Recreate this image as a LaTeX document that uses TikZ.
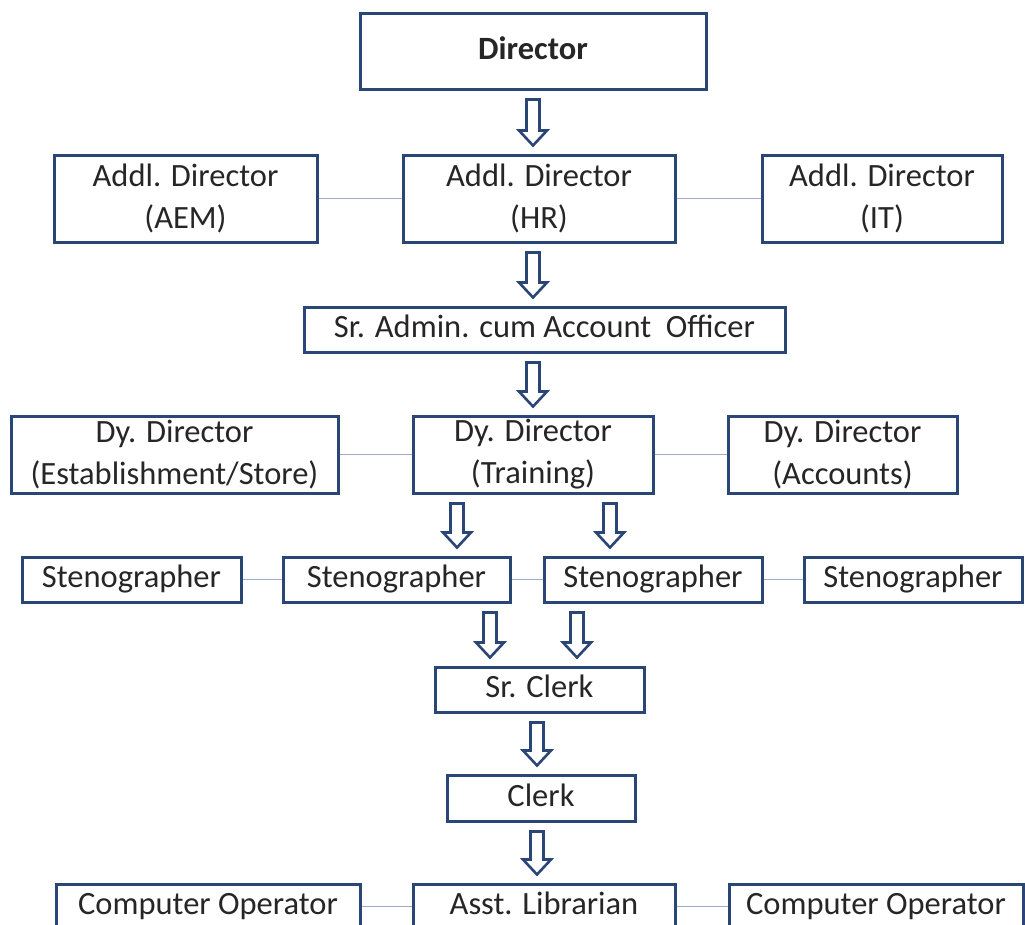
\documentclass[tikz,border=0pt]{standalone}
\usepackage{fontspec}
\setmainfont{Carlito}
\usetikzlibrary{calc}
\definecolor{boxblue}{HTML}{2A4676}
\definecolor{linkgray}{HTML}{9DADC6}
\definecolor{txt}{HTML}{262626}
\tikzset{
  orgbox/.style={draw=boxblue, line width=3pt, fill=white, inner sep=0pt, text=txt,
    align=center, font=\fontsize{32.5}{42}\selectfont, minimum height=45pt},
  onebox/.style={orgbox, text height=23pt, text depth=7pt},
  tallbox/.style={orgbox, minimum height=87pt},
  midbox/.style={orgbox, minimum height=77pt},
  link/.style={draw=linkgray, line width=1.8pt},
  blockarr/.style={draw=boxblue, line width=2.6pt, fill=white, line join=miter}
}
\newcommand\barrow[3]{%
  \draw[blockarr] let \p1=(#2.south), \p2=(#3.north) in
    (#1pt-6.5pt,\y1-9pt) -- (#1pt+6.5pt,\y1-9pt) -- (#1pt+6.5pt,\y2+23pt)
    -- (#1pt+14pt,\y2+23pt) -- (#1pt,\y2+8pt) -- (#1pt-14pt,\y2+23pt)
    -- (#1pt-6.5pt,\y2+23pt) -- cycle;}
\begin{document}
\begin{tikzpicture}[x=1pt,y=-1pt]
\useasboundingbox (0,0) rectangle (1025,924);
\begin{scope}
\clip (0,0) rectangle (1025,924);
% row 1
\node[onebox, minimum width=346pt, minimum height=76pt, font=\fontsize{32.5}{42}\selectfont\bfseries] (dir) at (533,51) {Director};
% row 2
\node[tallbox, minimum width=263pt] (aem) at (185.5,198.5) {Addl. Director\\(AEM)};
\node[tallbox, minimum width=272pt] (hr) at (539,198.5) {Addl. Director\\(HR)};
\node[tallbox, minimum width=240pt] (it) at (882,198.5) {Addl. Director\\(IT)};
% row 3
\node[onebox, minimum width=481pt] (sra) at (544.5,329.5) {Sr. Admin. cum Account\ \ Officer};
% row 4
\node[midbox, minimum width=327pt] (est) at (174.5,454.5) {Dy. Director\\(Establishment/Store)};
\node[midbox, minimum width=240pt] (trn) at (533,454.5) {Dy. Director\\(Training)};
\node[midbox, minimum width=229pt] (acc) at (842.5,454.5) {Dy. Director\\(Accounts)};
% row 5
\node[onebox, minimum width=219pt] (s1) at (131.5,579.5) {Stenographer};
\node[onebox, minimum width=227pt] (s2) at (396.5,579.5) {Stenographer};
\node[onebox, minimum width=218pt] (s3) at (653,579.5) {Stenographer};
\node[onebox, minimum width=218pt] (s4) at (913,579.5) {Stenographer};
% row 6-7
\node[onebox, minimum width=209pt] (src) at (539.5,689.5) {Sr. Clerk};
\node[onebox, minimum width=188pt, minimum height=46pt] (clk) at (541,798) {Clerk};
% row 8
\node[onebox, minimum width=304pt] (co1) at (208,906.5) {Computer Operator};
\node[onebox, minimum width=262pt] (lib) at (544,906.5) {Asst. Librarian};
\node[onebox, minimum width=294pt] (co2) at (876,906.5) {Computer Operator};
% side links
\draw[link] (aem) -- (hr);
\draw[link] (hr) -- (it);
\draw[link] (est) -- (trn);
\draw[link] (trn) -- (acc);
\draw[link] (s1) -- (s2);
\draw[link] (s2) -- (s3);
\draw[link] (s3) -- (s4);
\draw[link] (co1) -- (lib);
\draw[link] (lib) -- (co2);
% block arrows
\barrow{533}{dir}{hr}
\barrow{533}{hr}{sra}
\barrow{533}{sra}{trn}
\barrow{457}{trn}{s2}
\barrow{610}{trn}{s3}
\barrow{490}{s2}{src}
\barrow{577}{s3}{src}
\barrow{537}{src}{clk}
\barrow{537}{clk}{lib}
\end{scope}
\end{tikzpicture}
\end{document}
